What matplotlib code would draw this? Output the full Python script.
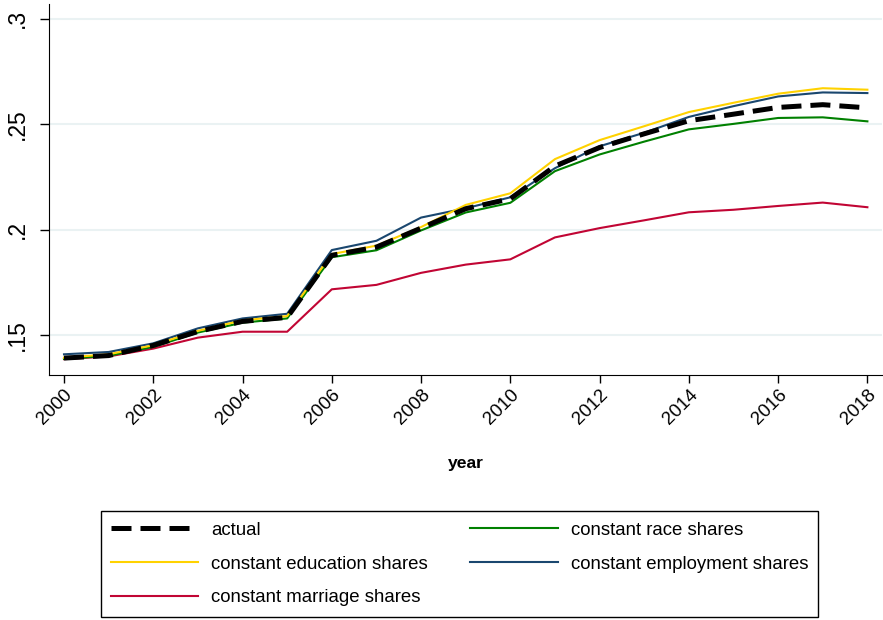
import matplotlib
matplotlib.use("Agg")
import matplotlib.pyplot as plt

plt.rcParams['font.family'] = ['Liberation Sans', 'DejaVu Sans']

years = list(range(2000, 2019))

actual = [0.1392, 0.1404, 0.1452, 0.1518, 0.1566, 0.1585, 0.1879, 0.1918, 0.2008, 0.2100, 0.2147,
          0.2302, 0.2390, 0.2455, 0.2517, 0.2548, 0.2580, 0.2593, 0.2578]
education = [0.1394, 0.1410, 0.1453, 0.1521, 0.1571, 0.1591, 0.1885, 0.1925, 0.2013, 0.2118, 0.2173,
             0.2335, 0.2425, 0.2491, 0.2558, 0.2602, 0.2645, 0.2671, 0.2664]
race = [0.1388, 0.1403, 0.1445, 0.1513, 0.1560, 0.1580, 0.1870, 0.1903, 0.1997, 0.2082, 0.2128,
        0.2278, 0.2357, 0.2418, 0.2476, 0.2502, 0.2530, 0.2533, 0.2514]
employment = [0.1410, 0.1421, 0.1462, 0.1533, 0.1580, 0.1602, 0.1904, 0.1948, 0.2058, 0.2102, 0.2154,
              0.2292, 0.2396, 0.2460, 0.2535, 0.2586, 0.2632, 0.2651, 0.2648]
marriage = [0.1387, 0.1400, 0.1437, 0.1489, 0.1517, 0.1517, 0.1718, 0.1739, 0.1796, 0.1835, 0.1860,
            0.1964, 0.2008, 0.2045, 0.2083, 0.2095, 0.2113, 0.2129, 0.2107]

fig = plt.figure(figsize=(8.83, 6.2), dpi=100)
ax = fig.add_axes([0.0555, 0.3952, 0.943, 0.5983])

ax.plot(years, marriage, color='#c10534', lw=1.5, label='constant marriage shares')
ax.plot(years, race, color='#008000', lw=1.5, label='constant race shares')
ax.plot(years, employment, color='#1a476f', lw=1.5, label='constant employment shares')
ax.plot(years, education, color='#ffd200', lw=1.5, label='constant education shares')
ax.plot(years, actual, color='black', lw=3.6, ls=(0, (4, 1.8)), label='actual')

ax.set_xlim(1999.664, 2018.32)
ax.set_ylim(0.1312, 0.307)
ax.set_xticks(range(2000, 2019, 2))
ax.set_yticks([0.15, 0.2, 0.25, 0.3])
ax.set_yticklabels(['.15', '.2', '.25', '.3'], rotation=90, va='center')
ax.tick_params(axis='x', labelsize=13.5, length=6, width=1, pad=2)
ax.tick_params(axis='y', labelsize=16.5, length=6.5, width=1, pad=8)
plt.setp(ax.get_xticklabels(), rotation=45, ha='right', rotation_mode='anchor')
ax.grid(axis='y', color='#eaf2f3', lw=1.5)
ax.set_axisbelow(True)
for side in ['top', 'right']:
    ax.spines[side].set_visible(False)
ax.set_xlabel('year', fontsize=12.6, fontweight='bold', labelpad=20)

h, l = ax.get_legend_handles_labels()
order = [4, 3, 0, 1, 2]
leg = fig.legend([h[i] for i in order], [l[i] for i in order], ncol=2,
                 loc='center', bbox_to_anchor=(459.5 / 883, 1 - 564 / 620),
                 fontsize=13.4, handlelength=4.7, handletextpad=0.7, columnspacing=2.26,
                 labelspacing=0.9, borderpad=0.55, fancybox=False, framealpha=1,
                 edgecolor='black')
leg.get_frame().set_linewidth(1)

fig.savefig('out.png', dpi=100)
